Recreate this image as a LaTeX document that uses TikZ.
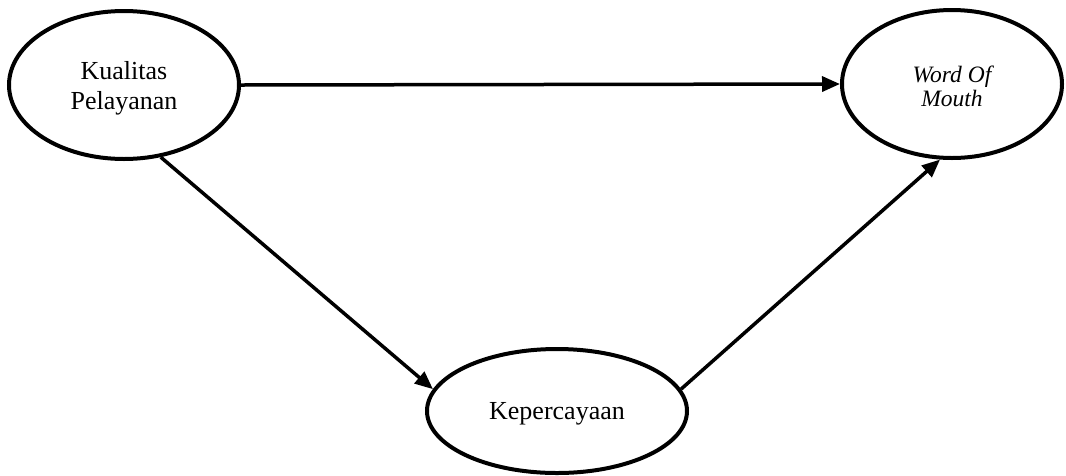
\documentclass[tikz,border=0pt]{standalone}
\usepackage{fontspec}
\setmainfont{Liberation Serif}
\usetikzlibrary{arrows.meta,shapes.geometric}
% text block lowered inside its ellipse, keeping its nominal size
\newcommand{\varstack}[2]{\raisebox{#1}[\height][\depth]{\begin{tabular}{@{}c@{}}#2\end{tabular}}}
\begin{document}
\begin{tikzpicture}[x=1pt,y=1pt,
  var/.style={draw=black, line width=4pt, ellipse, inner sep=0pt, align=center},
  varlabel/.style={font=\fontsize{26}{30}\selectfont},
  varital/.style={font=\fontsize{23.5}{24}\selectfont\itshape},
  link/.style={line width=3.5pt, -{Triangle[length=18pt,width=15pt]}}]
\useasboundingbox (0,0) rectangle (1066,-475);
% variables
\node[var, varlabel, minimum width=230pt, minimum height=148pt] (kp) at (124,-85) {\varstack{-3.5pt}{Kualitas\\Pelayanan}};
\node[var, varital, minimum width=220pt, minimum height=148pt] (wom) at (952,-84) {\varstack{-6pt}{Word Of\\Mouth}};
\node[var, varlabel, minimum width=260pt, minimum height=124pt] (kep) at (557,-411) {\varstack{-2pt}{Kepercayaan}};
% paths between variables
\draw[link] (kp.east) -- (wom.west);
\draw[link] (kp.-63) -- (kep.170);
\draw[link] (kep.10) -- (wom.261);
\end{tikzpicture}
\end{document}
